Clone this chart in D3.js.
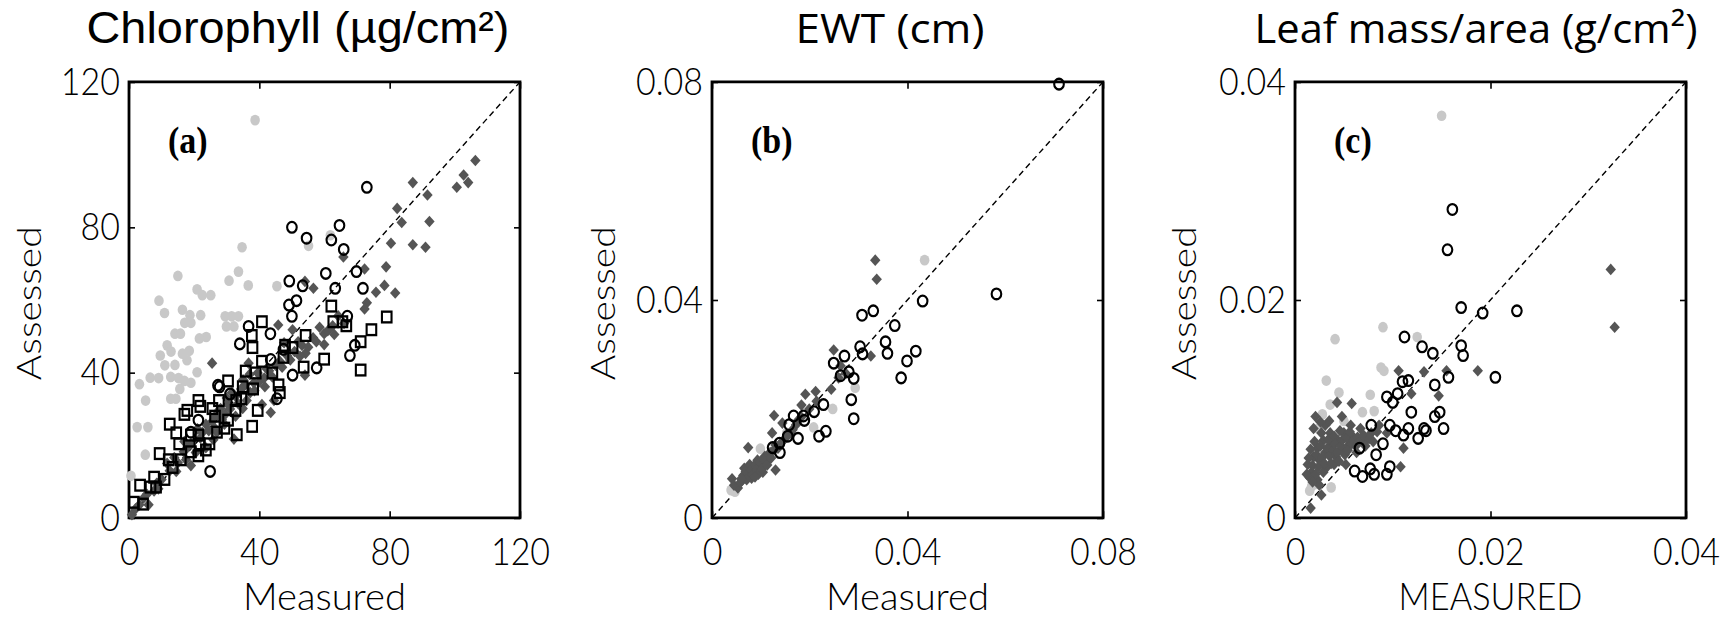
<!DOCTYPE html>
<html lang="en">
<head>
<meta charset="UTF-8">
<script src="https://d3js.org/d3.v7.min.js"></script>
<title>Measured vs assessed leaf traits</title>
<style>
  body { margin: 0; background: #fff; }
  .tick text { font-family: Lato, sans-serif; font-weight: 300; font-size: 34px; fill: #000; }
  .axis-title { font-family: Lato, sans-serif; font-weight: 300; font-size: 33px; fill: #000; }
  .panel-tag { font-family: "Liberation Serif", serif; font-weight: bold; font-size: 34px; }
</style>
</head>
<body>
<svg id="chart" width="1731" height="618"></svg>
<script>
// ---- data: [measured, assessed] ----
const chlGray = [[38.7,109.5],[34.7,74.5],[61.8,77.8],[55.1,74.9],[33.6,67.8],[30.7,65.3],[36.6,64.0],[15.0,66.6],
  [45.4,63.8],[20.9,62.9],[22.5,61.3],[25.1,61.3],[9.2,59.8],[10.9,56.4],[16.4,57.3],[18.7,55.8],[22.0,55.8],
  [29.5,55.5],[31.5,55.5],[33.6,55.5],[17.1,53.7],[19.0,53.7],[29.9,52.7],[32.2,52.7],[14.1,50.7],[15.8,50.7],
  [23.7,49.8],[21.6,49.4],[11.7,47.5],[12.9,45.8],[18.5,46.0],[9.6,44.7],[16.4,45.2],[17.8,43.4],[11.0,42.0],
  [14.1,42.1],[20.9,40.1],[12.8,38.8],[15.2,38.5],[17.0,37.7],[6.5,38.6],[9.1,38.5],[3.2,36.8],[15.6,35.5],
  [19.0,37.2],[5.1,32.3],[12.8,32.8],[14.4,32.8],[2.5,25.0],[5.8,25.0],[5.0,17.4],[0.6,11.6]];
const chlDiamond = [[106.3,98.4],[102.7,94.4],[100.6,91.0],[104.1,92.3],[87.1,92.3],[91.6,88.9],[82.3,85.2],
  [83.7,81.3],[92.2,81.6],[80.4,75.6],[87.1,75.2],[91.0,74.5],[72.3,68.5],[65.8,71.8],[78.9,69.1],[78.4,64.0],
  [81.7,61.9],[75.8,62.1],[73.0,59.2],[72.3,57.5],[56.6,63.2],[54.0,65.1],[45.8,53.1],[50.2,51.8],[47.6,48.2],
  [56.5,49.6],[53.1,47.5],[64.2,55.6],[62.5,52.9],[59.9,50.7],[59.9,47.7],[25.5,42.6],[36.7,42.6],[54.0,39.3],
  [41.7,36.1],[40.8,31.2],[43.5,29.0],[44.5,32.3],[32.2,21.7],[25.9,21.5],[19.0,14.4],[6.0,3.6],[0.9,0.9],
  [3.2,3.6],[7.7,7.4],[10.0,10.6],[11.7,15.0],[13.9,16.6],[16.8,18.2],[19.0,20.4],[21.9,22.0],[23.6,25.8],
  [26.4,28.0],[28.1,30.1],[30.4,31.2],[32.7,33.4],[34.4,35.5],[36.1,32.3],[38.3,37.2],[39.5,39.9],[42.3,41.0],
  [44.0,38.8],[46.3,43.1],[48.5,44.7],[50.8,45.8],[51.9,48.5],[54.2,45.3],[27.0,23.6],[29.3,25.8],[23.6,19.3],
  [14.5,12.8],[32.7,28.0],[34.9,30.1],[31.6,34.5],[37.2,34.5],[4.5,5.5],[9.0,8.0],[17.5,16.0],[28.5,27.0],
  [2.0,2.5],[5.5,6.5],[8.5,9.5],[12.5,13.0],[15.0,15.2],[18.0,19.5],[20.5,18.0],[22.5,23.5],[24.5,24.0],
  [25.5,26.5],[27.5,29.5],[29.5,28.5],[31.0,30.0],[33.5,31.5],[35.5,36.5],[37.0,39.5],[38.5,35.0],[40.0,37.5],
  [41.5,38.5],[43.0,40.5],[45.0,42.0],[47.0,41.5],[49.5,43.5],[52.5,44.5],[55.0,47.0],[57.5,48.5],[58.5,52.5],
  [61.0,51.5],[63.0,50.5],[66.0,53.5],[35.0,38.0],[30.0,33.0],[26.5,24.5],[21.0,24.5],[17.0,21.0]];
const chlCircle = [[73.0,91.0],[50.0,80.0],[64.6,80.5],[54.5,77.0],[62.1,76.5],[65.9,73.9],[60.4,67.3],[69.8,67.8],
  [49.2,65.2],[53.3,63.9],[63.3,63.2],[71.8,63.2],[49.1,58.6],[51.4,59.8],[50.0,55.5],[36.7,52.7],[43.4,50.7],
  [34.0,47.9],[67.0,55.5],[67.8,44.7],[69.3,47.5],[57.6,41.3],[50.2,39.3],[43.5,43.6],[27.8,36.1],[31.0,34.1],
  [45.4,32.8],[24.9,12.8],[21.3,26.9],[27.3,36.5],[47.4,46.4],[19.0,23.6]];
const chlSquare = [[79.1,55.3],[74.4,51.8],[71.1,48.5],[71.1,40.7],[66.7,52.9],[62.1,58.3],[62.7,54.0],[65.5,54.0],
  [59.9,43.7],[53.6,41.5],[54.2,50.2],[47.9,47.5],[50.2,46.9],[47.4,44.2],[40.8,54.0],[37.7,50.2],[37.9,46.9],
  [40.8,43.1],[35.8,40.4],[38.9,39.9],[44.0,39.9],[45.9,36.6],[38.1,35.5],[30.4,37.7],[34.9,36.1],[21.3,32.3],
  [21.9,30.7],[17.9,29.6],[17.0,28.5],[25.6,30.1],[26.4,28.0],[27.0,23.6],[34.5,32.8],[32.9,32.3],[37.8,25.2],
  [33.1,22.9],[30.4,26.9],[29.3,24.7],[12.5,25.8],[14.5,23.4],[15.4,20.4],[19.0,22.8],[21.3,22.8],[21.6,20.4],
  [24.7,20.4],[9.4,17.7],[12.2,16.0],[15.9,16.0],[13.4,13.9],[10.9,10.6],[7.7,11.2],[6.6,8.5],[8.3,8.5],
  [3.4,9.0],[1.5,4.3],[4.3,3.8],[19.0,18.2],[21.3,17.1],[23.6,18.7],[32.7,29.6],[27.6,32.3],[39.5,29.6],[46.3,34.5]];

const ewtGray = [[0.0435,0.0473],[0.0293,0.0239],[0.0247,0.0200],[0.0208,0.0166],[0.0099,0.0127],[0.0047,0.0048],
  [0.0039,0.0051],[0.0153,0.0156]];
const ewtDiamond = [[0.0334,0.0473],[0.0337,0.0438],[0.0249,0.0308],[0.0325,0.0297],[0.0263,0.0279],[0.0212,0.0232],
  [0.0191,0.0227],[0.0183,0.0207],[0.0127,0.0188],[0.0144,0.0174],[0.0123,0.0156],[0.0074,0.0129],[0.0130,0.0088],
  [0.0041,0.0072],[0.0053,0.0055],[0.0066,0.0091],[0.0077,0.0098],[0.0085,0.0084],[0.0093,0.0106],[0.0100,0.0095],
  [0.0108,0.0113],[0.0111,0.0102],[0.0119,0.0120],[0.0062,0.0069],[0.0074,0.0077],[0.0081,0.0073],[0.0089,0.0091],
  [0.0104,0.0084],[0.0130,0.0134],[0.0146,0.0142],[0.0161,0.0156],[0.0172,0.0171],[0.0183,0.0185],[0.0199,0.0200],
  [0.0214,0.0214],[0.0244,0.0236],[0.0259,0.0257],[0.0274,0.0265],[0.0070,0.0080],[0.0096,0.0100],
  [0.0045,0.0060],[0.0058,0.0065],[0.0064,0.0078],[0.0069,0.0085],[0.0079,0.0088],[0.0082,0.0079],[0.0087,0.0097],
  [0.0091,0.0088],[0.0095,0.0080],[0.0098,0.0103],[0.0102,0.0090],[0.0106,0.0107],[0.0113,0.0097],[0.0116,0.0117],
  [0.0121,0.0110],[0.0126,0.0124],[0.0135,0.0128],[0.0140,0.0136],[0.0152,0.0148],[0.0165,0.0162],[0.0177,0.0180],
  [0.0071,0.0070],[0.0060,0.0072],[0.0088,0.0075]];
const ewtCircle = [[0.0710,0.0796],[0.0582,0.0411],[0.0431,0.0398],[0.0330,0.0380],[0.0307,0.0372],[0.0374,0.0353],
  [0.0355,0.0323],[0.0359,0.0302],[0.0417,0.0306],[0.0399,0.0288],[0.0387,0.0257],[0.0303,0.0314],[0.0308,0.0301],
  [0.0271,0.0297],[0.0249,0.0284],[0.0280,0.0268],[0.0290,0.0256],[0.0263,0.0261],[0.0285,0.0217],[0.0290,0.0182],
  [0.0228,0.0208],[0.0209,0.0195],[0.0233,0.0159],[0.0219,0.0150],[0.0187,0.0187],[0.0189,0.0179],[0.0167,0.0187],
  [0.0158,0.0171],[0.0155,0.0150],[0.0176,0.0146],[0.0138,0.0137],[0.0124,0.0129],[0.0139,0.0120]];

const lmaGray = [[0.0150,0.0369],[0.0090,0.0175],[0.0041,0.0164],[0.0125,0.0166],[0.0032,0.0126],[0.0091,0.0135],
  [0.0088,0.0138],[0.0077,0.0113],[0.0036,0.0104],[0.0069,0.0097],[0.0081,0.0098],[0.0050,0.0089],[0.0024,0.0082],
  [0.0037,0.0028],[0.0017,0.0029],[0.0015,0.0025],[0.0020,0.0031],[0.0028,0.0095],[0.0045,0.0115]];
const lmaDiamond = [[0.0323,0.0228],[0.0327,0.0175],[0.0187,0.0135],[0.0155,0.0135],[0.0132,0.0134],[0.0106,0.0135],
  [0.0119,0.0114],[0.0147,0.0112],[0.0058,0.0105],[0.0043,0.0106],[0.0019,0.0082],[0.0016,0.0009],[0.0027,0.0021],
  [0.0108,0.0047],[0.0111,0.0064],[0.0013,0.0049],[0.0017,0.0042],[0.0019,0.0056],[0.0023,0.0064],[0.0025,0.0053],
  [0.0029,0.0071],[0.0031,0.0060],[0.0032,0.0046],[0.0036,0.0078],[0.0038,0.0067],[0.0042,0.0056],[0.0044,0.0071],
  [0.0048,0.0064],[0.0050,0.0078],[0.0055,0.0067],[0.0059,0.0075],[0.0063,0.0060],[0.0067,0.0082],[0.0073,0.0071],
  [0.0078,0.0078],[0.0086,0.0085],[0.0094,0.0078],[0.0015,0.0037],[0.0023,0.0035],[0.0029,0.0042],[0.0040,0.0049],
  [0.0052,0.0049],[0.0021,0.0093],[0.0048,0.0093],[0.0057,0.0085],
  [0.0012,0.0040],[0.0014,0.0055],[0.0016,0.0063],[0.0018,0.0048],[0.0020,0.0070],[0.0021,0.0040],[0.0022,0.0058],
  [0.0024,0.0047],[0.0026,0.0066],[0.0027,0.0078],[0.0028,0.0056],[0.0030,0.0050],[0.0031,0.0085],[0.0033,0.0064],
  [0.0034,0.0072],[0.0035,0.0057],[0.0037,0.0050],[0.0039,0.0062],[0.0040,0.0075],[0.0041,0.0068],[0.0043,0.0060],
  [0.0045,0.0052],[0.0046,0.0080],[0.0047,0.0066],[0.0049,0.0072],[0.0051,0.0058],[0.0053,0.0073],[0.0054,0.0062],
  [0.0056,0.0079],[0.0058,0.0068],[0.0060,0.0071],[0.0062,0.0066],[0.0064,0.0074],[0.0066,0.0070],[0.0070,0.0076],
  [0.0072,0.0066],[0.0076,0.0073],[0.0080,0.0070],[0.0084,0.0079],[0.0035,0.0089],[0.0026,0.0088],[0.0018,0.0033],
  [0.0025,0.0030]];
const lmaCircle = [[0.0161,0.0283],[0.0156,0.0246],[0.0170,0.0193],[0.0192,0.0188],[0.0227,0.0190],[0.0112,0.0166],
  [0.0130,0.0157],[0.0141,0.0151],[0.0170,0.0158],[0.0172,0.0149],[0.0205,0.0129],[0.0157,0.0129],[0.0143,0.0122],
  [0.0110,0.0125],[0.0116,0.0126],[0.0105,0.0114],[0.0094,0.0111],[0.0100,0.0106],[0.0119,0.0097],[0.0148,0.0097],
  [0.0143,0.0093],[0.0152,0.0082],[0.0132,0.0082],[0.0134,0.0080],[0.0126,0.0073],[0.0111,0.0076],[0.0116,0.0082],
  [0.0103,0.0080],[0.0097,0.0085],[0.0078,0.0085],[0.0090,0.0068],[0.0066,0.0064],[0.0083,0.0058],[0.0061,0.0043],
  [0.0077,0.0045],[0.0069,0.0038],[0.0081,0.0040],[0.0094,0.0040],[0.0097,0.0047]];

const chlTicks = [0, 40, 80, 120];
const ewtTicks = [0, 0.04, 0.08];
const lmaTicks = [0, 0.02, 0.04];
const titles = ["Chlorophyll (µg/cm²)", "EWT (cm)", "Leaf mass/area (g/cm²)"];
const tags = ["(a)", "(b)", "(c)"];
const xTitles = ["Measured", "Measured", "MEASURED"];
const yTitle = "Assessed";

// ---- layout ----
const stretch = 1.115;          // the source figure is stretched vertically
const plotTop = 73.5, side = 391;
const svg = d3.select("#chart");
const root = svg.append("g").attr("transform", `scale(1,${stretch})`);

const panels = [
  { left: 129, ticks: chlTicks, tag: tags[0], title: titles[0], titleX: 298, titleLen: 423,
    titleFont: "'Liberation Sans', Arial, sans-serif", titleSize: 40, xTitle: xTitles[0], xLen: 163, yOff: 88,
    series: { gray: chlGray, diamond: chlDiamond, square: chlSquare, circle: chlCircle } },
  { left: 712, ticks: ewtTicks, tag: tags[1], title: titles[1], titleX: 890, titleLen: 189,
    titleFont: "'Open Sans', sans-serif", titleSize: 36, xTitle: xTitles[1], xLen: 163, yOff: 97,
    series: { gray: ewtGray, diamond: ewtDiamond, circle: ewtCircle } },
  { left: 1295, ticks: lmaTicks, tag: tags[2], title: titles[2], titleX: 1476, titleLen: 443,
    titleFont: "'Open Sans', sans-serif", titleSize: 36, xTitle: xTitles[2], xLen: 184, yOff: 99,
    series: { gray: lmaGray, diamond: lmaDiamond, circle: lmaCircle } }
];

const fmt = d => d === 0 ? "0" : String(d);
const diamondPath = "M0,-5.2L5.2,0L0,5.2L-5.2,0Z";

panels.forEach(p => {
  const max = p.ticks[p.ticks.length - 1];
  const x = d3.scaleLinear().domain([0, max]).range([0, side]);
  const y = d3.scaleLinear().domain([0, max]).range([side, 0]);
  const g = root.append("g").attr("transform", `translate(${p.left},${plotTop})`);

  // axes: inward ticks on all four sides
  const ax = [
    [d3.axisLeft(y).tickFormat(fmt).tickPadding(9), null],
    [d3.axisBottom(x).tickFormat(fmt).tickPadding(18), `translate(0,${side})`],
    [d3.axisTop(x).tickFormat(""), null],
    [d3.axisRight(y).tickFormat(""), `translate(${side},0)`]
  ];
  ax.forEach(([axis, tr]) => {
    const a = g.append("g").call(axis.tickValues(p.ticks).tickSizeInner(-6).tickSizeOuter(0));
    if (tr) a.attr("transform", tr);
    a.select(".domain").remove();
    a.selectAll(".tick line").attr("stroke-width", 1.6).attr("vector-effect", "non-scaling-stroke");
  });

  g.append("rect").attr("width", side).attr("height", side)
    .attr("fill", "none").attr("stroke", "#000").attr("stroke-width", 2.8)
    .attr("vector-effect", "non-scaling-stroke");

  // 1:1 line
  g.append("line")
    .attr("x1", x(0)).attr("y1", y(0)).attr("x2", x(max)).attr("y2", y(max))
    .attr("stroke", "#000").attr("stroke-width", 1.4).attr("stroke-dasharray", "6,4")
    .attr("vector-effect", "non-scaling-stroke");

  const s = p.series;
  g.selectAll(".gray").data(s.gray).enter().append("circle")
    .attr("cx", d => x(d[0])).attr("cy", d => y(d[1])).attr("r", 4.8).attr("fill", "#c8c8c8");
  g.selectAll(".dia").data(s.diamond).enter().append("path")
    .attr("d", diamondPath).attr("fill", "#555555")
    .attr("transform", d => `translate(${x(d[0])},${y(d[1])})`);
  if (s.square) {
    g.selectAll(".sq").data(s.square).enter().append("rect")
      .attr("x", d => x(d[0]) - 4.8).attr("y", d => y(d[1]) - 4.8)
      .attr("width", 9.6).attr("height", 9.6)
      .attr("fill", "none").attr("stroke", "#000").attr("stroke-width", 2.1);
  }
  g.selectAll(".oc").data(s.circle).enter().append("circle")
    .attr("cx", d => x(d[0])).attr("cy", d => y(d[1])).attr("r", 4.8)
    .attr("fill", "none").attr("stroke", "#000").attr("stroke-width", 2.1);

  g.append("text").attr("class", "panel-tag").attr("x", 39).attr("y", 64).text(p.tag);

  // titles
  root.append("text").attr("x", p.titleX).attr("y", 38.6).attr("text-anchor", "middle")
    .style("font-family", p.titleFont).style("font-size", p.titleSize + "px")
    .attr("textLength", p.titleLen).attr("lengthAdjust", "spacingAndGlyphs").text(p.title);

  g.append("text").attr("class", "axis-title").attr("x", side / 2).attr("y", 547 - plotTop)
    .attr("text-anchor", "middle").attr("textLength", p.xLen).attr("lengthAdjust", "spacingAndGlyphs")
    .text(p.xTitle);

  g.append("text").attr("class", "axis-title").attr("text-anchor", "middle")
    .attr("transform", `translate(${-p.yOff},${side / 2 + 3}) rotate(-90)`)
    .attr("textLength", 138).attr("lengthAdjust", "spacingAndGlyphs").text(yTitle);
});
</script>
</body>
</html>
